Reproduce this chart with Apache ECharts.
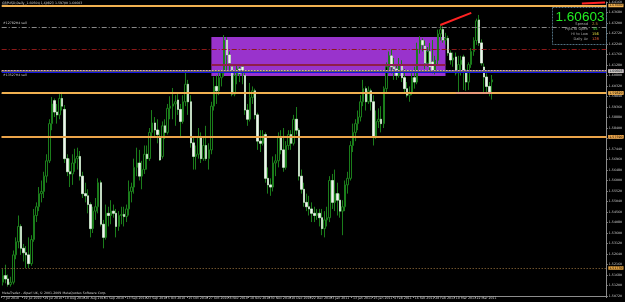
<!DOCTYPE html>
<html><head><meta charset="utf-8">
<script src="https://cdn.jsdelivr.net/npm/echarts@6/dist/echarts.min.js"></script>
<style>html,body{margin:0;padding:0;background:#000;}#c{width:625px;height:302px;}</style>
</head><body><div id="c"></div>
<script>
// x-axis tick labels (every 8th bar)
const tickLabels = ['7 Jul 2010','19 Jul 2010','29 Jul 2010','10 Aug 2010','20 Aug 2010','1 Sep 2010','13 Sep 2010','23 Sep 2010','5 Oct 2010','15 Oct 2010','27 Oct 2010','8 Nov 2010','18 Nov 2010','30 Nov 2010','10 Dec 2010','22 Dec 2010','3 Jan 2011','13 Jan 2011','25 Jan 2011','4 Feb 2011','16 Feb 2011','28 Feb 2011','10 Mar 2011','22 Mar 2011'];
// daily bars [open, high, low, close]
const jul = [
[1.5135,1.5195,1.5120,1.5165],[1.5165,1.5215,1.5130,1.5150],[1.5150,1.5170,1.5115,1.5125],[1.5125,1.5160,1.5115,1.5135],
[1.5135,1.5280,1.5125,1.5260],[1.5260,1.5340,1.5240,1.5320],[1.5320,1.5440,1.5290,1.5390],[1.5390,1.5400,1.5260,1.5290],
[1.5290,1.5310,1.5230,1.5270],[1.5270,1.5300,1.5200,1.5260],[1.5260,1.5340,1.5200,1.5220],[1.5220,1.5350,1.5210,1.5330],
[1.5330,1.5470,1.5320,1.5440],[1.5440,1.5500,1.5410,1.5480],[1.5480,1.5570,1.5460,1.5540],[1.5540,1.5600,1.5500,1.5550],
[1.5550,1.5640,1.5520,1.5620],[1.5620,1.5720,1.5590,1.5690]];
const aug = [
[1.5690,1.5880,1.5680,1.5860],[1.5860,1.5982,1.5830,1.5950],[1.5965,1.5975,1.5890,1.5913],[1.5913,1.5950,1.5860,1.5900],
[1.5900,1.5995,1.5880,1.5975],[1.5975,1.6005,1.5920,1.5940],[1.5925,1.5945,1.5680,1.5700],[1.5700,1.5720,1.5620,1.5640],
[1.5640,1.5700,1.5570,1.5630],[1.5630,1.5720,1.5580,1.5680],[1.5680,1.5745,1.5640,1.5700],[1.5700,1.5750,1.5650,1.5710],
[1.5710,1.5735,1.5600,1.5620],[1.5620,1.5640,1.5520,1.5540],[1.5540,1.5590,1.5500,1.5530],[1.5530,1.5560,1.5450,1.5490],
[1.5490,1.5500,1.5340,1.5380],[1.5380,1.5480,1.5360,1.5460],[1.5460,1.5520,1.5420,1.5480],[1.5480,1.5610,1.5450,1.5590],
[1.5590,1.5600,1.5390,1.5400],[1.5400,1.5420,1.5290,1.5340]];
const sep = [
[1.5340,1.5490,1.5330,1.5450],[1.5450,1.5480,1.5390,1.5440],[1.5440,1.5510,1.5400,1.5460],[1.5460,1.5490,1.5430,1.5450],
[1.5450,1.5470,1.5340,1.5390],[1.5390,1.5460,1.5370,1.5440],[1.5440,1.5480,1.5400,1.5445],[1.5445,1.5480,1.5390,1.5435],
[1.5435,1.5490,1.5410,1.5470],[1.5470,1.5600,1.5440,1.5550],[1.5550,1.5590,1.5500,1.5570],[1.5570,1.5700,1.5540,1.5660],
[1.5660,1.5750,1.5620,1.5680],[1.5680,1.5740,1.5600,1.5620],[1.5620,1.5690,1.5560,1.5650],[1.5650,1.5760,1.5630,1.5720],
[1.5720,1.5760,1.5650,1.5700],[1.5700,1.5840,1.5690,1.5820],[1.5820,1.5922,1.5800,1.5863],[1.5863,1.5890,1.5800,1.5831],
[1.5831,1.5880,1.5770,1.5810],[1.5800,1.5830,1.5690,1.5694]];
const oct = [
[1.5710,1.5870,1.5700,1.5850],[1.5850,1.5880,1.5790,1.5820],[1.5820,1.5950,1.5810,1.5930],[1.5930,1.5985,1.5880,1.5940],
[1.5940,1.6023,1.5880,1.5950],[1.5950,1.5990,1.5850,1.5960],[1.5968,1.5995,1.5900,1.5925],[1.5925,1.5950,1.5800,1.5870],
[1.5870,1.5990,1.5860,1.5960],[1.5960,1.6105,1.5940,1.6040],[1.6040,1.6060,1.5900,1.5960],[1.5960,1.5990,1.5750,1.5772],
[1.5772,1.5800,1.5650,1.5710],[1.5710,1.5760,1.5650,1.5720],[1.5720,1.5840,1.5700,1.5800],[1.5800,1.5820,1.5680,1.5700],
[1.5700,1.5800,1.5690,1.5760],[1.5760,1.5850,1.5690,1.5700],[1.5700,1.5770,1.5650,1.5740],[1.5740,1.5960,1.5720,1.5940],
[1.5940,1.6075,1.5920,1.6030]];
const nov = [
[1.6030,1.6080,1.5950,1.6010],[1.6010,1.6090,1.5990,1.6070],[1.6070,1.6100,1.6030,1.6092],[1.6092,1.6265,1.6075,1.6240],
[1.6242,1.6255,1.6100,1.6174],[1.6174,1.6190,1.6092,1.6137],[1.6120,1.6130,1.5985,1.5995],[1.5995,1.6100,1.5985,1.6080],
[1.6080,1.6125,1.6040,1.6110],[1.6110,1.6120,1.6050,1.6090],[1.6119,1.6125,1.6040,1.6096],[1.6080,1.6090,1.5900,1.5922],
[1.5922,1.5950,1.5850,1.5880],[1.5880,1.6046,1.5870,1.5980],[1.5980,1.6030,1.5950,1.6010],[1.6010,1.6020,1.5880,1.5900],
[1.5900,1.5910,1.5740,1.5780],[1.5780,1.5830,1.5730,1.5770],[1.5770,1.5830,1.5760,1.5810],[1.5810,1.5820,1.5590,1.5610],
[1.5610,1.5660,1.5540,1.5580],[1.5580,1.5610,1.5530,1.5570]];
const dec = [
[1.5570,1.5710,1.5550,1.5680],[1.5680,1.5720,1.5620,1.5690],[1.5690,1.5820,1.5660,1.5800],[1.5800,1.5830,1.5720,1.5740],
[1.5740,1.5840,1.5640,1.5660],[1.5660,1.5780,1.5650,1.5760],[1.5760,1.5830,1.5740,1.5810],[1.5810,1.5830,1.5740,1.5770],
[1.5770,1.5900,1.5760,1.5880],[1.5880,1.5936,1.5810,1.5830],[1.5830,1.5840,1.5600,1.5620],[1.5620,1.5650,1.5540,1.5560],
[1.5560,1.5590,1.5480,1.5500],[1.5500,1.5540,1.5460,1.5480],[1.5480,1.5530,1.5440,1.5470],[1.5470,1.5500,1.5410,1.5450],
[1.5450,1.5480,1.5410,1.5440],[1.5440,1.5470,1.5420,1.5450],[1.5450,1.5470,1.5390,1.5430],[1.5430,1.5470,1.5350,1.5380],
[1.5380,1.5460,1.5340,1.5420],[1.5420,1.5480,1.5390,1.5430],[1.5430,1.5620,1.5410,1.5600]];
const jan = [
[1.5600,1.5630,1.5470,1.5500],[1.5500,1.5650,1.5460,1.5540],[1.5540,1.5590,1.5440,1.5510],[1.5510,1.5540,1.5430,1.5460],
[1.5460,1.5510,1.5350,1.5480],[1.5480,1.5600,1.5460,1.5580],[1.5580,1.5640,1.5540,1.5610],[1.5610,1.5780,1.5600,1.5760],
[1.5760,1.5860,1.5730,1.5820],[1.5820,1.5880,1.5780,1.5860],[1.5860,1.5920,1.5830,1.5890],[1.5890,1.5990,1.5870,1.5960],
[1.5960,1.6060,1.5940,1.6020],[1.6020,1.6030,1.5920,1.5960],[1.5960,1.6030,1.5950,1.6010],[1.6010,1.6020,1.5920,1.5960],
[1.5960,1.5990,1.5760,1.5800],[1.5800,1.5920,1.5790,1.5870],[1.5870,1.5930,1.5840,1.5880],[1.5880,1.5940,1.5820,1.5860],
[1.5860,1.6030,1.5840,1.6020]];
const feb = [
[1.6020,1.6140,1.6000,1.6120],[1.6120,1.6190,1.6090,1.6170],[1.6170,1.6200,1.6090,1.6120],[1.6120,1.6160,1.6060,1.6110],
[1.6110,1.6130,1.6060,1.6080],[1.6080,1.6160,1.6070,1.6130],[1.6130,1.6150,1.6050,1.6070],[1.6070,1.6110,1.6000,1.6020],
[1.6020,1.6050,1.5980,1.5990],[1.5990,1.6030,1.5960,1.6000],[1.6000,1.6090,1.5990,1.6070],[1.6070,1.6120,1.6020,1.6050],
[1.6050,1.6230,1.6040,1.6200],[1.6200,1.6260,1.6180,1.6240],[1.6240,1.6250,1.6190,1.6220],[1.6215,1.6240,1.6110,1.6137],
[1.6137,1.6210,1.6120,1.6190],[1.6190,1.6229,1.6105,1.6119],[1.6142,1.6242,1.6090,1.6105],[1.6105,1.6170,1.6085,1.6150]];
const mar = [
[1.6150,1.6290,1.6130,1.6270],[1.6270,1.6311,1.6240,1.6290],[1.6290,1.6305,1.6230,1.6242],[1.6242,1.6275,1.6220,1.6250],
[1.6250,1.6262,1.6170,1.6183],[1.6183,1.6195,1.6130,1.6151],[1.6151,1.6185,1.6120,1.6160],[1.6165,1.6185,1.6080,1.6092],
[1.6092,1.6170,1.6005,1.6130],[1.6130,1.6170,1.6080,1.6150],[1.6165,1.6175,1.6014,1.6096],[1.6096,1.6110,1.6010,1.6050],
[1.6050,1.6140,1.6014,1.6130],[1.6130,1.6205,1.6115,1.6190],[1.6190,1.6255,1.6170,1.6240],[1.6240,1.6340,1.6220,1.6330],
[1.6334,1.6357,1.6215,1.6229],[1.6229,1.6245,1.6125,1.6137],[1.6119,1.6135,1.6005,1.6073],[1.6073,1.6090,1.6000,1.6030],
[1.6030,1.6050,1.5985,1.6005],[1.60504,1.60823,1.59700,1.60603]];

// horizontal levels (prices)
const levelTopOrange = 1.6366, levelSellA = 1.6315, levelRedDash = 1.6153, levelBlue = 1.6130;
const levelSellB = 1.6078, bidPrice = 1.60603, levelDotted = 1.6014, levelOrangeMid = 1.5982;
const levelOrangeLowA = 1.5777, levelOrangeLowB = 1.5759, levelBottomDot = 1.5173, levelSalmon = 1.6000;
const boxTop = 1.6256, boxBottom = 1.6078;
const trendA = [1.6311, 1.6366];
const trendB = [1.6409, 1.6414];
const infoPrice = '1.60603', infoSpread = '2.5', infoPips = '55', infoHiLow = '156', infoDaily = '128';

const rows = [].concat(jul, aug, sep, oct, nov, dec, jan, feb, mar);
const candleData = rows.map(r => [r[0], r[3], r[2], r[1]]);
// bear bodies only (white), drawn over the green wicks
const bearBodies = rows.map(r => r[3] < r[0] ? [r[0], r[3], r[3], r[0]] : '-');
const months = ['Jan','Feb','Mar','Apr','May','Jun','Jul','Aug','Sep','Oct','Nov','Dec'];
const cats = [];
let d = new Date(Date.UTC(2010, 6, 7));
while (cats.length < 235) {
  const wd = d.getUTCDay();
  if (wd !== 0 && wd !== 6) cats.push(d.getUTCDate() + ' ' + months[d.getUTCMonth()] + ' ' + d.getUTCFullYear());
  d = new Date(d.getTime() + 86400000);
}
const isTick = i => i % 8 === 0 && i / 8 < tickLabels.length;

function hl(v, color, width, type, labelBg, labelColor) {
  const o = {yAxis: v, lineStyle: {color: color, width: width, type: type}};
  if (labelBg) o.label = {show: true, position: 'end', distance: 2, formatter: () => v.toFixed(5),
     backgroundColor: labelBg, color: labelColor || '#000', fontSize: 3.2, padding: [0.5, 1, 0, 1], fontFamily: 'DejaVu Sans'};
  else o.label = {show: false};
  return o;
}
function seg(i0, v0, i1, v1, color, width) {
  return [{coord: [i0, v0], lineStyle: {color: color, width: width, type: 'solid'}, label: {show: false}}, {coord: [i1, v1]}];
}

const chart = echarts.init(document.getElementById('c'), null, {renderer: 'canvas'});
const small = {fontFamily: 'DejaVu Sans', fontSize: 3.2, fill: '#d0d0d0'};
const infoFont = {fontFamily: 'DejaVu Sans', fontSize: 3.6, verticalAlign: 'middle'};
chart.setOption({
  backgroundColor: '#000',
  animation: false,
  grid: {left: 0, right: 13, top: 2, bottom: 6},
  xAxis: {
    type: 'category', data: cats, boundaryGap: true,
    axisLine: {lineStyle: {color: '#8c8c8c', width: 1}},
    axisTick: {show: true, length: 2, interval: (i) => isTick(i), lineStyle: {color: '#8c8c8c'}},
    axisLabel: {interval: (i) => isTick(i), formatter: (v, i) => tickLabels[i / 8] || '', color: '#d0d0d0', fontSize: 3.2, align: 'left', margin: 1, fontFamily: 'DejaVu Sans'},
    splitLine: {show: false}
  },
  yAxis: {
    type: 'value', position: 'right', min: 1.5072, max: 1.6416, interval: 0.0048, scale: true,
    axisLine: {show: true, lineStyle: {color: '#8c8c8c', width: 1}},
    axisTick: {show: true, length: 1.5, lineStyle: {color: '#8c8c8c'}},
    axisLabel: {formatter: v => v.toFixed(5), color: '#d0d0d0', fontSize: 3.2, margin: 2.5, fontFamily: 'DejaVu Sans'},
    splitLine: {show: false}
  },
  series: [
    {type: 'line', data: [], z: 1, silent: true,
     markArea: {silent: true, itemStyle: {color: '#9933cc', opacity: 1}, label: {show: false},
       data: [[{coord: [81, boxTop]}, {coord: [172, boxBottom]}]]}},
    {type: 'candlestick', data: candleData, z: 3, barWidth: 2, silent: true,
     itemStyle: {color: '#000', color0: '#000', borderColor: '#1b7d1b', borderColor0: '#1b7d1b', borderWidth: 1}},
    {type: 'candlestick', data: bearBodies, z: 4, barWidth: 2, silent: true,
     itemStyle: {color: '#000', color0: '#f2f2f2', borderColor: '#000', borderColor0: '#e8f0e8', borderWidth: 0.6}},
    {type: 'line', data: [], z: 5, silent: true,
     markLine: {silent: true, symbol: ['none', 'none'], animation: false,
       data: [
         hl(levelTopOrange, '#f0b050', 2, 'solid', '#f0b050'),
         hl(levelSellA, '#8a8a8a', 1, [5, 2, 1, 2], null),
         hl(levelRedDash, '#8b1a1a', 1, [5, 2, 1, 2], null),
         hl(levelBlue, '#1414e6', 3, 'solid', '#1414e6', '#fff'),
         seg(81, levelBlue, 172, levelBlue, '#8e1e4a', 2),
         hl(levelSellB, '#e8b878', 2, [2, 1], '#e8b070'),
         hl(bidPrice, '#5a5a5a', 1, 'solid', '#c8c8c8'),
         hl(levelDotted, '#8a8a8a', 1, [1, 2], '#c89040'),
         hl(levelOrangeMid, '#f0b050', 2, 'solid', '#f0b050'),
         hl(levelOrangeLowA, '#eba44a', 2, 'solid', '#eba44a'),
         hl(levelOrangeLowB, '#eba44a', 2, 'solid', '#eba44a'),
         hl(levelBottomDot, '#a07840', 1, [1, 2], '#e0a040'),
         seg(176, levelSalmon, 190, levelSalmon, '#e89a78', 2),
         seg(170, trendA[0], 182, trendA[1], '#ff2222', 2),
         seg(225, trendB[0], 234, trendB[1], '#ff2222', 2)
       ]}}
  ],
  graphic: [
    {type: 'text', left: 2, top: 1.5, style: Object.assign({}, small, {text: 'GBPUSD,Daily  1.60504 1.60823 1.59700 1.60603'})},
    {type: 'text', left: 2, top: 5, style: Object.assign({}, small, {text: '775 minutes 13 seconds left to bar end'})},
    {type: 'text', left: 3, top: 21.5, style: Object.assign({}, small, {text: '#12782H4 sell'})},
    {type: 'text', left: 3, top: 73.5, style: Object.assign({}, small, {text: '#13527H4 sell'})},
    {type: 'text', left: 2, top: 291.5, style: Object.assign({}, small, {text: 'MetaTrader - Alpari UK, \u00a9 2001-2009 MetaQuotes Software Corp.'})},
    {type: 'rect', shape: {x: 552.5, y: 7.5, width: 54, height: 37}, style: {fill: 'none', stroke: '#4f6f80', lineWidth: 1, lineDash: [2, 1]}, z: 10},
    {type: 'text', x: 580, y: 17, style: {text: infoPrice, fontFamily: 'Liberation Sans', fontSize: 13.5, fill: '#22ee22', align: 'center', verticalAlign: 'middle'}, z: 10},
    {type: 'text', x: 588, y: 24.5, style: Object.assign({}, infoFont, {text: 'Spread', fill: '#a8a8a8', align: 'right'}), z: 10},
    {type: 'text', x: 588, y: 29.3, style: Object.assign({}, infoFont, {text: 'Pips to Open', fill: '#a8a8a8', align: 'right'}), z: 10},
    {type: 'text', x: 588, y: 34.1, style: Object.assign({}, infoFont, {text: 'Hi to Low', fill: '#a8a8a8', align: 'right'}), z: 10},
    {type: 'text', x: 588, y: 38.9, style: Object.assign({}, infoFont, {text: 'Daily Av', fill: '#a8a8a8', align: 'right'}), z: 10},
    {type: 'text', x: 592, y: 24.5, style: Object.assign({}, infoFont, {text: infoSpread, fill: '#d8a040'}), z: 10},
    {type: 'text', x: 593, y: 29.3, style: Object.assign({}, infoFont, {text: infoPips, fill: '#30e030'}), z: 10},
    {type: 'text', x: 592, y: 34.1, style: Object.assign({}, infoFont, {text: infoHiLow, fill: '#e8e040'}), z: 10},
    {type: 'text', x: 592, y: 38.9, style: Object.assign({}, infoFont, {text: infoDaily, fill: '#ff6a40'}), z: 10}
  ]
});
</script></body></html>
